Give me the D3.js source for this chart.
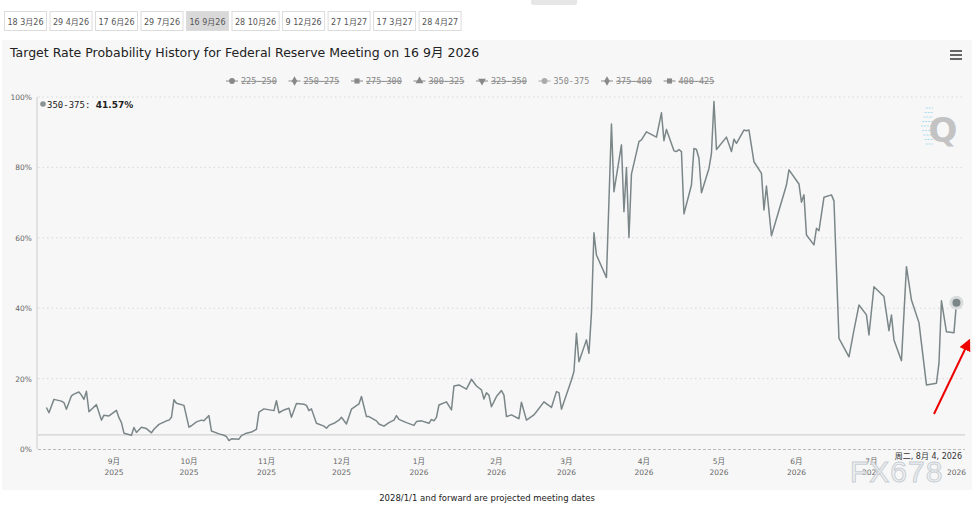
<!DOCTYPE html>
<html>
<head>
<meta charset="utf-8">
<script src="https://cdn.jsdelivr.net/npm/d3@7"></script>
<style>
  html, body { margin: 0; padding: 0; background: #fff; }
  svg { display: block; font-family: "DejaVu Sans", "Noto Sans CJK SC", sans-serif; }
</style>
</head>
<body>
<div id="chart"></div>
<script>
// meeting tabs across the top
const tabs = ["18 3月26", "29 4月26", "17 6月26", "29 7月26", "16 9月26", "28 10月26", "9 12月26", "27 1月27", "17 3月27", "28 4月27"];
const activeTab = "16 9月26";

// legend series (only 350-375 is shown)
const seriesNames = ["225-250", "250-275", "275-300", "300-325", "325-350", "350-375", "375-400", "400-425"];
const seriesSymbols = ["circle", "diamond", "square", "triangle", "triangle-down", "circle", "diamond", "square"];
const shownSeries = "350-375";

// probability history for 350-375 (%)
const dates = [
  "2025-08-05","2025-08-06","2025-08-08","2025-08-11","2025-08-12","2025-08-13","2025-08-15","2025-08-16","2025-08-18","2025-08-19",
  "2025-08-20","2025-08-21","2025-08-22","2025-08-25","2025-08-27","2025-08-28","2025-08-30","2025-09-02","2025-09-03","2025-09-04",
  "2025-09-05","2025-09-08","2025-09-09","2025-09-10","2025-09-12","2025-09-14","2025-09-16","2025-09-17","2025-09-19","2025-09-22",
  "2025-09-23","2025-09-24","2025-09-25","2025-09-26","2025-09-29","2025-10-01","2025-10-02","2025-10-04","2025-10-06","2025-10-07",
  "2025-10-09","2025-10-10","2025-10-13","2025-10-15","2025-10-16","2025-10-17","2025-10-18","2025-10-21","2025-10-22","2025-10-24",
  "2025-10-26","2025-10-28","2025-10-29","2025-10-31","2025-11-04","2025-11-05","2025-11-06","2025-11-08","2025-11-10","2025-11-11",
  "2025-11-13","2025-11-16","2025-11-17","2025-11-18","2025-11-19","2025-11-21","2025-11-24","2025-11-25","2025-11-26","2025-11-28",
  "2025-11-30","2025-12-01","2025-12-03","2025-12-05","2025-12-08","2025-12-09","2025-12-11","2025-12-12","2025-12-15","2025-12-16",
  "2025-12-18","2025-12-20","2025-12-22","2025-12-23","2025-12-24","2025-12-27","2025-12-30","2025-12-31","2026-01-02","2026-01-05",
  "2026-01-06","2026-01-07","2026-01-08","2026-01-09","2026-01-12","2026-01-14","2026-01-15","2026-01-17","2026-01-20","2026-01-22",
  "2026-01-24","2026-01-26","2026-01-27","2026-01-28","2026-01-29","2026-01-30","2026-02-01","2026-02-03","2026-02-04","2026-02-05",
  "2026-02-07","2026-02-10","2026-02-11","2026-02-13","2026-02-16","2026-02-17","2026-02-20","2026-02-23","2026-02-25","2026-02-26",
  "2026-02-27","2026-03-03","2026-03-04","2026-03-05","2026-03-06","2026-03-09","2026-03-10","2026-03-11","2026-03-12","2026-03-13",
  "2026-03-17","2026-03-19","2026-03-20","2026-03-23","2026-03-24","2026-03-25","2026-03-26","2026-03-27","2026-03-30","2026-03-31",
  "2026-04-02","2026-04-06","2026-04-08","2026-04-09","2026-04-10","2026-04-13","2026-04-14","2026-04-15","2026-04-16","2026-04-17",
  "2026-04-20","2026-04-21","2026-04-22","2026-04-23","2026-04-24","2026-04-27","2026-04-28","2026-04-29","2026-04-30","2026-05-04",
  "2026-05-06","2026-05-07","2026-05-08","2026-05-11","2026-05-12","2026-05-13","2026-05-15","2026-05-18","2026-05-19","2026-05-20",
  "2026-05-22","2026-05-28","2026-05-29","2026-06-02","2026-06-03","2026-06-04","2026-06-05","2026-06-08","2026-06-09","2026-06-10",
  "2026-06-12","2026-06-15","2026-06-16","2026-06-18","2026-06-22","2026-06-24","2026-06-26","2026-06-29","2026-06-30","2026-07-02",
  "2026-07-06","2026-07-08","2026-07-09","2026-07-10","2026-07-13","2026-07-15","2026-07-17","2026-07-20","2026-07-23","2026-07-27",
  "2026-07-28","2026-07-29","2026-07-31","2026-08-03","2026-08-04"
];
const values = [
  11.8,10.3,14.1,13.6,13.2,11.3,15.1,15.6,16.2,15.3,
  14.1,16.4,10.6,12.6,8.2,9.6,9.4,11.0,8.9,7.5,
  4.5,3.9,6.1,4.7,6.2,5.8,4.6,5.6,7.0,8.0,
  8.2,9.0,14.0,13.0,12.4,6.2,6.6,7.7,8.2,8.0,
  9.5,5.1,4.3,3.9,3.5,2.4,2.9,2.8,3.8,4.5,
  4.8,5.6,10.5,11.4,10.9,13.7,10.3,11.1,11.6,9.0,
  12.9,12.7,12.4,10.9,11.4,7.3,6.5,5.9,6.7,7.3,
  8.2,9.0,7.1,11.3,12.8,14.9,9.2,9.2,8.0,7.1,
  6.5,7.5,8.2,9.5,8.4,7.5,6.7,7.8,8.0,7.3,
  8.4,8.0,9.0,12.5,13.4,11.1,17.9,18.2,17.0,19.8,
  17.9,16.8,14.2,16.0,15.3,12.0,14.9,16.6,15.3,9.2,
  9.7,8.6,13.3,8.2,9.7,10.6,13.4,11.8,16.3,16.0,
  11.3,19.6,22.0,32.9,24.8,31.0,27.2,38.6,61.4,55.1,
  48.7,92.3,73.1,86.4,67.4,80.0,60.1,78.1,87.3,87.8,
  90.1,88.6,95.5,87.6,90.8,84.7,84.5,85.1,84.5,66.8,
  75.0,85.4,85.1,82.6,72.8,79.7,84.0,98.7,85.1,88.6,
  84.5,88.0,86.8,90.6,90.4,90.6,81.6,78.3,67.9,74.7,
  60.6,75.0,79.3,75.3,70.1,72.2,60.8,58.0,62.7,62.0,
  71.5,72.2,70.5,31.4,26.2,33.8,40.9,38.1,32.4,46.1,
  43.3,33.6,38.1,31.0,25.1,51.8,42.3,35.9,18.2,18.7,
  24.3,42.1,33.3,33.0,41.57
];

// flat reference level drawn across the plot (%)
const refLevel = [4];

// axis ticks
const yTicks = [0, 20, 40, 60, 80, 100];
const xTickMonths = ["2025-09-01","2025-10-01","2025-11-01","2025-12-01","2026-01-01","2026-02-01","2026-03-01","2026-04-01","2026-05-01","2026-06-01","2026-07-01"];

const W = 979, H = 505;
const plot = { left: 38, right: 965, top: 97, bottom: 449 };
const parse = d3.timeParse("%Y-%m-%d");

const svg = d3.select("#chart").append("svg").attr("width", W).attr("height", H);

// partially visible button at the very top
svg.append("rect").attr("x", 531).attr("y", -4).attr("width", 46).attr("height", 9)
  .attr("rx", 2).attr("fill", "#e6e6e6");

// --- tabs ---
const tabG = svg.append("g").attr("class", "tabs");
let tx = 4;
tabs.forEach((t) => {
  const txt = tabG.append("text").attr("x", 0).attr("y", 0).style("font-size", "8px").text(t);
  const tw = txt.node().getComputedTextLength();
  txt.remove();
  const bw = tw + 6;
  const g = tabG.append("g").attr("transform", `translate(${tx},11)`);
  g.append("rect").attr("x", 0.5).attr("y", 0.5).attr("width", bw).attr("height", 19)
    .attr("fill", t === activeTab ? "#d9d9d9" : "#fff")
    .attr("stroke", "#dcdcdc");
  g.append("text").attr("x", bw / 2 + 0.5).attr("y", 13.5).attr("text-anchor", "middle")
    .style("font-size", "8px").attr("fill", "#555").text(t);
  tx += bw + 3.5;
});

// --- chart background ---
svg.append("rect").attr("x", 2).attr("y", 40).attr("width", 970).attr("height", 450).attr("fill", "#f7f7f7");

svg.append("text").attr("x", 10).attr("y", 57).style("font-size", "12.5px").attr("fill", "#222")
  .text("Target Rate Probability History for Federal Reserve Meeting on 16 9月 2026");

// hamburger
[0, 4, 8].forEach((dy) => {
  svg.append("rect").attr("x", 950).attr("y", 50 + dy).attr("width", 12).attr("height", 2).attr("fill", "#666");
});

// --- legend ---
const legend = svg.append("g").attr("class", "legend");
const symMap = {
  circle: d3.symbolCircle, diamond: d3.symbolDiamond, square: d3.symbolSquare,
  triangle: d3.symbolTriangle, "triangle-down": d3.symbolTriangle
};
seriesNames.forEach((name, i) => {
  const cx = 232 + i * 62.5;
  const shown = name === shownSeries;
  const col = shown ? "#aaa" : "#888";
  const g = legend.append("g").attr("transform", `translate(${cx},81)`);
  g.append("line").attr("x1", -6).attr("x2", 6).attr("stroke", col).attr("stroke-width", 1);
  g.append("path").attr("d", d3.symbol(symMap[seriesSymbols[i]], 26)())
    .attr("transform", seriesSymbols[i] === "triangle-down" ? "rotate(180)" : null)
    .attr("fill", col);
  g.append("text").attr("x", 9).attr("y", 3).style("font-size", "8.5px")
    .style("font-family", "'DejaVu Sans Mono', monospace")
    .style("text-decoration", shown ? "none" : "line-through")
    .attr("fill", "#888").text(name);
});

// --- scales ---
const x = d3.scaleTime()
  .domain([new Date(2025, 7, 1, 15), new Date(2026, 7, 7, 10)])
  .range([plot.left, plot.right]);
const y = d3.scaleLinear().domain([0, 100]).range([plot.bottom, plot.top]);

// grid
svg.append("g").selectAll("line").data(yTicks.filter((d) => d > 0)).enter().append("line")
  .attr("x1", plot.left).attr("x2", plot.right)
  .attr("y1", (d) => y(d)).attr("y2", (d) => y(d))
  .attr("stroke", "#d8d8d8").attr("stroke-dasharray", "1.5,3");

// y labels
svg.append("g").selectAll("text").data(yTicks).enter().append("text")
  .attr("x", 32).attr("y", (d) => y(d) + 3).attr("text-anchor", "end")
  .style("font-size", "7.5px").attr("fill", "#666").text((d) => d + "%");

// axes lines
svg.append("line").attr("x1", plot.left - 1).attr("x2", plot.left - 1).attr("y1", plot.top).attr("y2", plot.bottom)
  .attr("stroke", "#ccc");
svg.append("line").attr("x1", plot.left).attr("x2", plot.right).attr("y1", plot.bottom + 0.5).attr("y2", plot.bottom + 0.5)
  .attr("stroke", "#bbb").attr("stroke-dasharray", "3,2");

// flat reference line
svg.append("g").selectAll("line").data(refLevel).enter().append("line")
  .attr("x1", plot.left).attr("x2", plot.right)
  .attr("y1", (d) => y(d)).attr("y2", (d) => y(d))
  .attr("stroke", "#c8c8c8").attr("stroke-width", 1);

// x labels
const xl = svg.append("g").selectAll("g").data(xTickMonths.map(parse)).enter().append("g")
  .attr("transform", (d) => `translate(${x(d)},0)`);
xl.append("text").attr("y", 464).attr("text-anchor", "middle").style("font-size", "7.5px").attr("fill", "#666")
  .text((d) => (d.getMonth() + 1) + "月");
xl.append("text").attr("y", 475).attr("text-anchor", "middle").style("font-size", "7.5px").attr("fill", "#666")
  .text((d) => d.getFullYear());

// Q logo
const q = svg.append("g").attr("class", "logo");
d3.range(9).forEach((i) => {
  q.append("line").attr("x1", 921 + Math.abs(4 - i) * 1.2).attr("x2", 933)
    .attr("y1", 108 + i * 4.5).attr("y2", 108 + i * 4.5)
    .attr("stroke", "#a9dcef").attr("stroke-width", 1).attr("stroke-dasharray", "2,1");
});
q.append("text").attr("x", 943).attr("y", 142).attr("text-anchor", "middle")
  .style("font-size", "34px").style("font-weight", "bold").attr("fill", "#c3c3c3").text("Q");

// --- the series line ---
const pts = dates.map((d, i) => ({ date: parse(d), value: values[i] }));
const line = d3.line().x((d) => x(d.date)).y((d) => y(d.value));
svg.append("path").datum(pts).attr("d", line)
  .attr("fill", "none").attr("stroke", "#7b8688").attr("stroke-width", 1.5).attr("stroke-linejoin", "round");

// hover marker on the last point
const last = pts[pts.length - 1];
svg.append("circle").attr("cx", x(last.date)).attr("cy", y(last.value)).attr("r", 7).attr("fill", "#d9dcdd");
svg.append("circle").attr("cx", x(last.date)).attr("cy", y(last.value)).attr("r", 4).attr("fill", "#7b8688");

// tooltip text top-left
svg.append("circle").attr("cx", 43).attr("cy", 104).attr("r", 2.8).attr("fill", "#8a9294");
const tt = svg.append("text").attr("x", 47).attr("y", 107.5).style("font-size", "9px").attr("fill", "#222")
  .style("font-family", "'DejaVu Sans Mono', monospace");
tt.append("tspan").text(shownSeries + ": ");
tt.append("tspan").style("font-weight", "bold").style("font-family", "'DejaVu Sans', sans-serif")
  .text(d3.format(".2f")(last.value) + "%");

// crosshair date label
svg.append("rect").attr("x", 896).attr("y", 451).attr("width", 70).attr("height", 11).attr("fill", "#f7f7f7");
svg.append("text").attr("x", 962).attr("y", 459).attr("text-anchor", "end").style("font-size", "8px").attr("fill", "#333")
  .text("周二, 8月 4, 2026");
svg.append("text").attr("x", x(last.date)).attr("y", 475).attr("text-anchor", "middle").style("font-size", "7.5px")
  .attr("fill", "#666").text("2026");

// watermark
svg.append("text").attr("x", 850).attr("y", 482).style("font-size", "30px").style("font-family", "'Liberation Sans', sans-serif")
  .attr("fill", "#eef1f3").attr("fill-opacity", 0.8).attr("stroke", "#c9ced3").attr("stroke-width", 1)
  .style("letter-spacing", "1px").text("FX678");

// red arrow annotation
const defs = svg.append("defs");
defs.append("marker").attr("id", "ah").attr("viewBox", "0 0 10 10").attr("refX", 8).attr("refY", 5)
  .attr("markerWidth", 6).attr("markerHeight", 6).attr("orient", "auto")
  .append("path").attr("d", "M0,0L10,5L0,10z").attr("fill", "#e00");
svg.append("line").attr("x1", 934).attr("y1", 414).attr("x2", 969).attr("y2", 341)
  .attr("stroke", "#e00").attr("stroke-width", 2).attr("marker-end", "url(#ah)");

// footnote
svg.append("text").attr("x", 487).attr("y", 501).attr("text-anchor", "middle").style("font-size", "8.5px")
  .attr("fill", "#222").text("2028/1/1 and forward are projected meeting dates");
</script>
</body>
</html>
